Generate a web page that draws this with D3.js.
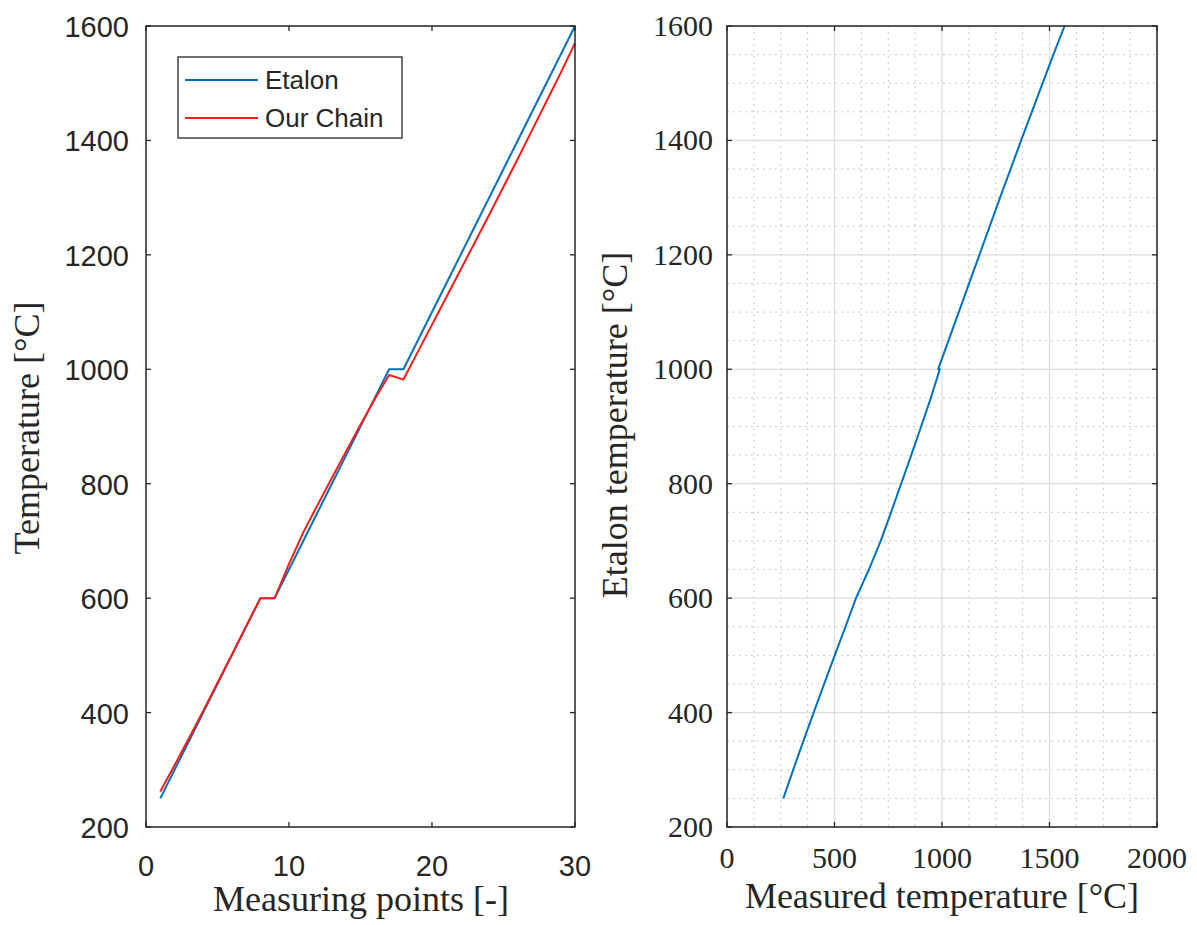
<!DOCTYPE html>
<html><head><meta charset="utf-8">
<script src="https://cdn.jsdelivr.net/npm/d3@7"></script>
<style>body{margin:0;background:#fff}</style>
</head><body>
<script>
const points = d3.range(1, 31);
const etalon = [250,300,350,400,450,500,550,600,600,650,700,750,800,850,900,950,1000,1000,1050,1100,1150,1200,1250,1300,1350,1400,1450,1500,1550,1600];
const ourChain = [262,308,355,403,452,501,551,600,600,660,715,763,810,857,903,948,990,982,1030,1078,1126,1174,1222,1270,1319,1368,1418,1468,1518,1570];
const leftXTicks = [0,10,20,30];
const yTicks = [200,400,600,800,1000,1200,1400,1600];
const rightXTicks = [0,500,1000,1500,2000];
const seriesNames = ["Etalon","Our Chain"];
const colors = ["#0072BD","#FF1A1A"];

const W = 1197, H = 925;
const svg = d3.select("body").append("svg").attr("width", W).attr("height", H);
const axisColor = "#262626";
const sans = "'Liberation Sans', Arial, sans-serif";
const serif = "'Liberation Serif', 'DejaVu Serif', serif";

function tickMarks(g, xs, ys, x0, x1, y0, y1) {
  const L = 5;
  xs.forEach(v => {
    g.append("line").attr("x1", v).attr("x2", v).attr("y1", y1).attr("y2", y1 - L).attr("stroke", axisColor).attr("stroke-width", 1.3);
    g.append("line").attr("x1", v).attr("x2", v).attr("y1", y0).attr("y2", y0 + L).attr("stroke", axisColor).attr("stroke-width", 1.3);
  });
  ys.forEach(v => {
    g.append("line").attr("x1", x0).attr("x2", x0 + L).attr("y1", v).attr("y2", v).attr("stroke", axisColor).attr("stroke-width", 1.3);
    g.append("line").attr("x1", x1).attr("x2", x1 - L).attr("y1", v).attr("y2", v).attr("stroke", axisColor).attr("stroke-width", 1.3);
  });
}

// ---------- Left plot ----------
const lx = d3.scaleLinear().domain([0, 30]).range([146, 575]);
const ly = d3.scaleLinear().domain([200, 1600]).range([827, 26]);
const gl = svg.append("g");

const line1 = d3.line().x((d, i) => lx(points[i])).y(d => ly(d));
[etalon, ourChain].forEach((s, k) => {
  gl.append("path").datum(s).attr("d", line1).attr("fill", "none")
    .attr("stroke", colors[k]).attr("stroke-width", 2).attr("stroke-linejoin", "round");
});
gl.append("rect").attr("x", 146).attr("y", 26).attr("width", 575 - 146).attr("height", 827 - 26)
  .attr("fill", "none").attr("stroke", axisColor).attr("stroke-width", 1.5);
tickMarks(gl, leftXTicks.map(lx), yTicks.map(ly), 146, 575, 26, 827);

leftXTicks.forEach(v => gl.append("text").attr("x", lx(v)).attr("y", 876).attr("text-anchor", "middle")
  .attr("font-family", sans).attr("font-size", 29).attr("fill", axisColor).text(v));
yTicks.forEach(v => gl.append("text").attr("x", 129).attr("y", ly(v) + 11).attr("text-anchor", "end")
  .attr("font-family", sans).attr("font-size", 29).attr("fill", axisColor).text(v));
gl.append("text").attr("x", 361).attr("y", 911).attr("text-anchor", "middle")
  .attr("font-family", serif).attr("font-size", 36).attr("fill", axisColor).text("Measuring points [-]");
gl.append("text").attr("transform", "translate(39,428) rotate(-90)").attr("text-anchor", "middle")
  .attr("font-family", serif).attr("font-size", 36).attr("fill", axisColor).text("Temperature [°C]");

// legend
const lg = gl.append("g");
lg.append("rect").attr("x", 178).attr("y", 57).attr("width", 224).attr("height", 81)
  .attr("fill", "#fff").attr("stroke", axisColor).attr("stroke-width", 1.3);
seriesNames.forEach((n, i) => {
  const yy = 80 + i * 38;
  lg.append("line").attr("x1", 185).attr("x2", 258).attr("y1", yy).attr("y2", yy).attr("stroke", colors[i]).attr("stroke-width", 2);
  lg.append("text").attr("x", 265).attr("y", yy + 9).attr("font-family", sans).attr("font-size", 26).attr("fill", axisColor).text(n);
});

// ---------- Right plot ----------
const rx = d3.scaleLinear().domain([0, 2000]).range([727, 1157]);
const ry = d3.scaleLinear().domain([200, 1600]).range([827, 26]);
const gr = svg.append("g");

// minor grid
d3.range(0, 2001, 125).filter(v => v % 500 !== 0).forEach(v => gr.append("line")
  .attr("x1", rx(v)).attr("x2", rx(v)).attr("y1", 26).attr("y2", 827)
  .attr("stroke", "#c8c8c8").attr("stroke-width", 1).attr("stroke-dasharray", "2,4"));
d3.range(200, 1601, 50).filter(v => v % 200 !== 0).forEach(v => gr.append("line")
  .attr("x1", 727).attr("x2", 1157).attr("y1", ry(v)).attr("y2", ry(v))
  .attr("stroke", "#c8c8c8").attr("stroke-width", 1).attr("stroke-dasharray", "2,4"));
// major grid
rightXTicks.forEach(v => gr.append("line").attr("x1", rx(v)).attr("x2", rx(v)).attr("y1", 26).attr("y2", 827)
  .attr("stroke", "#dcdcdc").attr("stroke-width", 1.2));
yTicks.forEach(v => gr.append("line").attr("x1", 727).attr("x2", 1157).attr("y1", ry(v)).attr("y2", ry(v))
  .attr("stroke", "#dcdcdc").attr("stroke-width", 1.2));

const line2 = d3.line().x(d => rx(d[0])).y(d => ry(d[1]));
gr.append("path").datum(ourChain.map((m, i) => [m, etalon[i]])).attr("d", line2).attr("fill", "none")
  .attr("stroke", colors[0]).attr("stroke-width", 2).attr("stroke-linejoin", "round");

gr.append("rect").attr("x", 727).attr("y", 26).attr("width", 1157 - 727).attr("height", 827 - 26)
  .attr("fill", "none").attr("stroke", axisColor).attr("stroke-width", 1.5);
tickMarks(gr, rightXTicks.map(rx), yTicks.map(ry), 727, 1157, 26, 827);

rightXTicks.forEach(v => gr.append("text").attr("x", rx(v)).attr("y", 868).attr("text-anchor", "middle")
  .attr("font-family", serif).attr("font-size", 30).attr("fill", axisColor).text(v));
yTicks.forEach(v => gr.append("text").attr("x", 713).attr("y", ry(v) + 10).attr("text-anchor", "end")
  .attr("font-family", serif).attr("font-size", 30).attr("fill", axisColor).text(v));
gr.append("text").attr("x", 942).attr("y", 908).attr("text-anchor", "middle")
  .attr("font-family", serif).attr("font-size", 36).attr("fill", axisColor).text("Measured temperature [°C]");
gr.append("text").attr("transform", "translate(627,425) rotate(-90)").attr("text-anchor", "middle")
  .attr("font-family", serif).attr("font-size", 36).attr("fill", axisColor).text("Etalon temperature [°C]");
</script>
</body></html>
